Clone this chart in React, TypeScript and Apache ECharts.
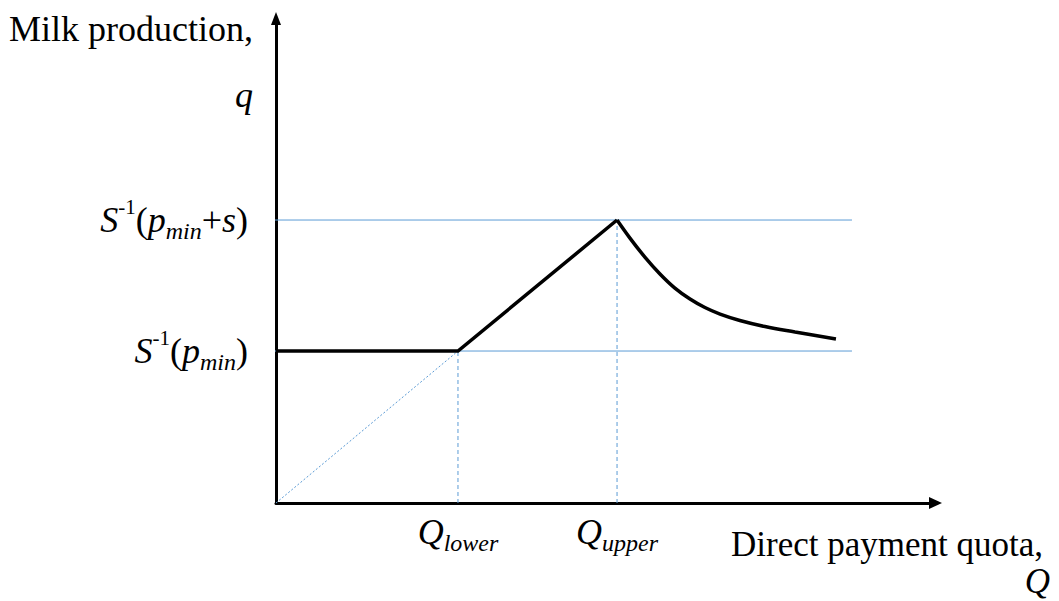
import React, { useEffect, useRef } from "react";
import * as echarts from "echarts";

// ---- data (abstract units) ----
const qLevels = [10, 18.62]; // S^-1(p_min), S^-1(p_min + s)
const quotaMarks = [10, 18.74]; // Q_lower, Q_upper
const guideStartX = -0.55;
const guideEndX = 31.65;
const kinkedX = [0, 10, 18.74];
const kinkedY = [10, 10, 18.62];
const declineX = [18.74, 19.45, 20.27, 21.1, 21.92, 22.75, 23.57, 24.4, 25.49, 26.87, 28.52, 30.77];
const declineY = [18.62, 17.43, 16.18, 15.07, 14.14, 13.42, 12.86, 12.43, 12.01, 11.61, 11.25, 10.79];
const diagonalX = [0, 10];
const diagonalY = [0, 10];
const xMax = 36.24;
const yMax = 31.88;

const FONT = "'Liberation Serif', 'Times New Roman', serif";
const BLUE = "#5B9BD5";

const zip = (xs: number[], ys: number[]) => xs.map((x, i) => [x, ys[i]]);

const rich = {
  i: { fontFamily: FONT, fontSize: 36, fontStyle: "italic", color: "#000" },
  n: { fontFamily: FONT, fontSize: 36, color: "#000" },
  sub: { fontFamily: FONT, fontSize: 24, fontStyle: "italic", color: "#000", padding: [22, 0, 0, 0] },
  sup: { fontFamily: FONT, fontSize: 21, color: "#000", padding: [0, 0, 26, 0] },
};

export default function App() {
  const ref = useRef<HTMLDivElement>(null);
  useEffect(() => {
    if (!ref.current) return;
    const chart = echarts.init(ref.current, null, { renderer: "svg" });
    const lineSeries = (data: number[][], style: any, extra: any = {}) => ({
      type: "line",
      data,
      symbol: "none",
      showSymbol: false,
      clip: false,
      silent: true,
      lineStyle: style,
      ...extra,
    });
    chart.setOption({
      animation: false,
      backgroundColor: "#fff",
      grid: { left: 276, right: 123.5, top: 18.5, bottom: 98, containLabel: false, outerBoundsMode: "none" },
      xAxis: {
        type: "value",
        min: 0,
        max: xMax,
        splitLine: { show: false },
        axisTick: { show: false },
        axisLine: {
          show: true,
          onZero: false,
          symbol: ["none", "triangle"],
          symbolSize: [12, 13],
          lineStyle: { color: "#000", width: 3 },
        },
        axisLabel: {
          show: true,
          customValues: quotaMarks,
          margin: 6,
          formatter: (v: number) =>
            Math.abs(v - quotaMarks[0]) < 0.01 ? "{i|Q}{sub|lower}" : "{i|Q}{sub|upper}",
          rich,
        },
      },
      yAxis: {
        type: "value",
        min: 0,
        max: yMax,
        splitLine: { show: false },
        axisTick: { show: false },
        axisLine: {
          show: true,
          onZero: false,
          symbol: ["none", "triangle"],
          symbolSize: [10, 13],
          lineStyle: { color: "#000", width: 3 },
        },
        axisLabel: {
          show: true,
          customValues: qLevels,
          margin: 28,
          formatter: (v: number) =>
            Math.abs(v - qLevels[0]) < 0.01
              ? "{i|S}{sup|-1}{n|(}{i|p}{sub|min}{n|)}"
              : "{i|S}{sup|-1}{n|(}{i|p}{sub|min}{n|+}{i|s}{n|)}",
          rich,
        },
      },
      series: [
        lineSeries([[guideStartX, qLevels[0]], [guideEndX, qLevels[0]]], { color: BLUE, width: 1 }, { z: 1 }),
        lineSeries([[guideStartX, qLevels[1]], [guideEndX, qLevels[1]]], { color: BLUE, width: 1 }, { z: 1 }),
        lineSeries([[quotaMarks[0], 0], [quotaMarks[0], qLevels[0]]], { color: BLUE, width: 1, type: [4, 3] }, { z: 1 }),
        lineSeries([[quotaMarks[1], 0], [quotaMarks[1], qLevels[1]]], { color: BLUE, width: 1, type: [4, 3] }, { z: 1 }),
        lineSeries(zip(diagonalX, diagonalY), { color: BLUE, width: 1, type: [2, 2] }, { z: 1 }),
        lineSeries(zip(kinkedX, kinkedY), { color: "#000", width: 3.5, join: "miter" }, { z: 3 }),
        lineSeries(zip(declineX, declineY), { color: "#000", width: 3.5 }, { z: 3, smooth: 0.4 }),
      ],
      graphic: [
        {
          type: "text",
          right: 1059 - 253,
          top: 11,
          style: { text: "Milk production,", font: `36px ${FONT}`, fill: "#000", align: "right" },
        },
        {
          type: "text",
          right: 1059 - 253,
          top: 77,
          style: { text: "q", font: `italic 36px ${FONT}`, fill: "#000", align: "right" },
        },
        {
          type: "text",
          right: 1059 - 1043,
          top: 527,
          style: { text: "Direct payment quota,", font: `35px ${FONT}`, fill: "#000", align: "right" },
        },
        {
          type: "text",
          right: 1059 - 1050,
          top: 564,
          style: { text: "Q", font: `italic 35px ${FONT}`, fill: "#000", align: "right" },
        },
      ],
    });
    return () => chart.dispose();
  }, []);
  return (
    <div
      ref={ref}
      style={{ position: "absolute", left: 0, top: 0, width: 1059, height: 601, background: "#fff" }}
    />
  );
}
